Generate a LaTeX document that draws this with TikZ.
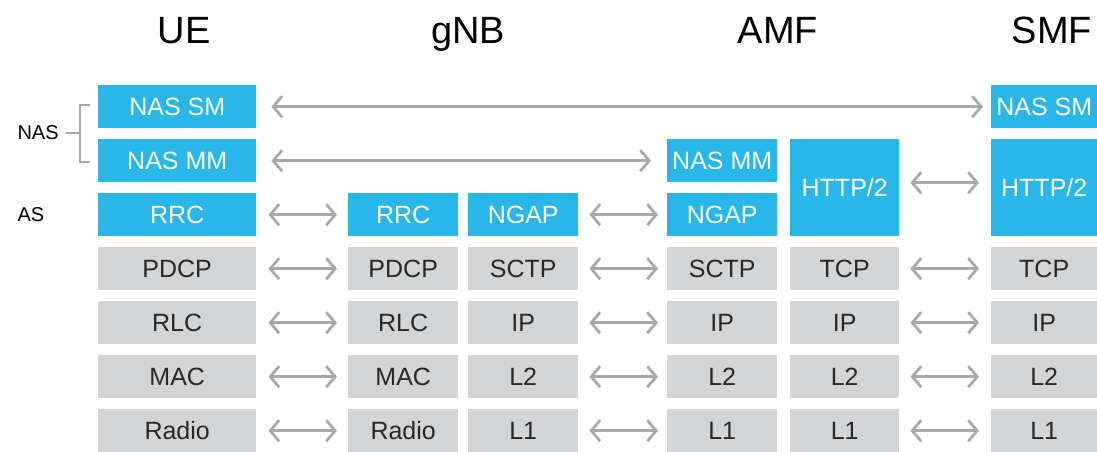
\documentclass[tikz,border=0pt]{standalone}
\usepackage{fontspec}
\setmainfont{Liberation Sans}
\usetikzlibrary{arrows.meta}
\definecolor{layerblue}{RGB}{41,182,233}
\definecolor{layergray}{RGB}{211,212,214}
\definecolor{linkgray}{RGB}{168,168,168}
\definecolor{labeltext}{RGB}{40,40,40}
\tikzset{
  layer/.style={anchor=north west, inner sep=0pt, minimum height=43pt,
    font=\fontsize{25}{29}\selectfont},
  upper/.style={layer, fill=layerblue, text=white},
  lower/.style={layer, fill=layergray, text=labeltext},
  entity/.style={anchor=base, font=\fontsize{38}{42}\selectfont, text=black},
  side/.style={anchor=west, font=\fontsize{20}{24}\selectfont, text=black},
  peer/.style={draw=linkgray, line width=2.7pt,
    {Straight Barb[length=9pt,width=21pt]}-{Straight Barb[length=9pt,width=21pt]}},
  brace/.style={draw=linkgray, line width=2pt}
}
\begin{document}
\begin{tikzpicture}[x=1pt,y=-1pt]
\useasboundingbox (0,0) rectangle (1097,451);

% network entities
\node[entity] (tUE)  at (184,43)  {UE};
\node[entity] (tgNB) at (468,43)  {gNB};
\node[entity] (tAMF) at (778,43)  {AMF};
\node[entity] (tSMF) at (1052,43) {SMF};

% stratum labels
\node[side] (lNAS) at (14,133) {NAS};
\node[side] (lAS)  at (14,215) {AS};

% UE stack
\node[upper, minimum width=158pt] (ueSM)  at (98,85)  {NAS SM};
\node[upper, minimum width=158pt] (ueMM)  at (98,139) {NAS MM};
\node[upper, minimum width=158pt] (ueRRC) at (98,193) {RRC};
\node[lower, minimum width=158pt] (ueP)   at (98,247) {PDCP};
\node[lower, minimum width=158pt] (ueR)   at (98,301) {RLC};
\node[lower, minimum width=158pt] (ueM)   at (98,355) {MAC};
\node[lower, minimum width=158pt] (ueRad) at (98,409) {Radio};

% gNB radio side
\node[upper, minimum width=110pt] (gRRC) at (348,193) {RRC};
\node[lower, minimum width=110pt] (gP)   at (348,247) {PDCP};
\node[lower, minimum width=110pt] (gR)   at (348,301) {RLC};
\node[lower, minimum width=110pt] (gM)   at (348,355) {MAC};
\node[lower, minimum width=110pt] (gRad) at (348,409) {Radio};

% gNB core side
\node[upper, minimum width=110pt] (gNG)  at (468,193) {NGAP};
\node[lower, minimum width=110pt] (gSC)  at (468,247) {SCTP};
\node[lower, minimum width=110pt] (gIP)  at (468,301) {IP};
\node[lower, minimum width=110pt] (gL2)  at (468,355) {L2};
\node[lower, minimum width=110pt] (gL1)  at (468,409) {L1};

% AMF N2 side
\node[upper, minimum width=110pt] (aMM)  at (667,139) {NAS MM};
\node[upper, minimum width=110pt] (aNG)  at (667,193) {NGAP};
\node[lower, minimum width=110pt] (aSC)  at (667,247) {SCTP};
\node[lower, minimum width=110pt] (aIP)  at (667,301) {IP};
\node[lower, minimum width=110pt] (aL2)  at (667,355) {L2};
\node[lower, minimum width=110pt] (aL1)  at (667,409) {L1};

% AMF service-based side
\node[upper, minimum width=109pt, minimum height=97pt] (aHT) at (790,139) {HTTP/2};
\node[lower, minimum width=109pt] (aTC)  at (790,247) {TCP};
\node[lower, minimum width=109pt] (aIP2) at (790,301) {IP};
\node[lower, minimum width=109pt] (aL22) at (790,355) {L2};
\node[lower, minimum width=109pt] (aL12) at (790,409) {L1};

% SMF stack
\node[upper, minimum width=106pt] (sSM) at (991,85) {NAS SM};
\node[upper, minimum width=106pt, minimum height=97pt] (sHT) at (991,139) {HTTP/2};
\node[lower, minimum width=106pt] (sTC) at (991,247) {TCP};
\node[lower, minimum width=106pt] (sIP) at (991,301) {IP};
\node[lower, minimum width=106pt] (sL2) at (991,355) {L2};
\node[lower, minimum width=106pt] (sL1) at (991,409) {L1};

% NAS bracket
\coordinate (bTop) at (90,105);
\coordinate (bBot) at (90,162);
\coordinate (bMid) at (80,133);
\draw[brace] (bTop) -- ++(-10,0) |- (bBot);
\draw[brace] ([xshift=4pt]lNAS.east) -- (bMid);

% peer-to-peer links
\draw[peer] ([xshift=15pt]ueSM.east) -- ([xshift=-8pt]sSM.west);
\draw[peer] ([xshift=15pt]ueMM.east) -- ([xshift=-16pt]aMM.west);
\foreach \u/\g in {ueRRC/gRRC, ueP/gP, ueR/gR, ueM/gM, ueRad/gRad}
  \draw[peer] ([xshift=12pt]\u.east) -- ([xshift=-11pt]\g.west);
\foreach \g/\a in {gNG/aNG, gSC/aSC, gIP/aIP, gL2/aL2, gL1/aL1}
  \draw[peer] ([xshift=11pt]\g.east) -- ([xshift=-9pt]\a.west);
\foreach \a/\s in {aTC/sTC, aIP2/sIP, aL22/sL2, aL12/sL1}
  \draw[peer] ([xshift=11pt]\a.east) -- ([xshift=-12pt]\s.west);
\draw[peer] ([xshift=11pt,yshift=5pt]aHT.east) -- ([xshift=-12pt,yshift=5pt]sHT.west);
\end{tikzpicture}
\end{document}
